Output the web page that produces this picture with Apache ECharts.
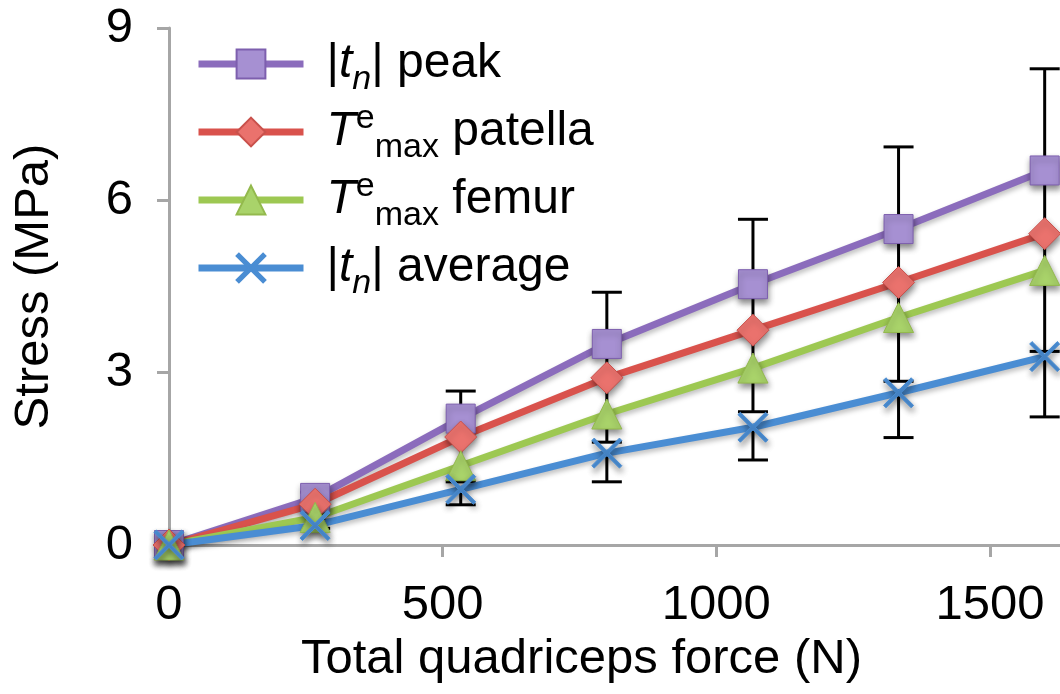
<!DOCTYPE html>
<html>
<head>
<meta charset="utf-8">
<script src="https://cdn.jsdelivr.net/npm/echarts@6/dist/echarts.min.js"></script>
<style>
html,body{margin:0;padding:0;background:#fff;}
#chart{width:1060px;height:694px;}
</style>
</head>
<body>
<div id="chart"></div>
<script>
// ---- data ----
var forceN = [0, 267, 533, 800, 1067, 1333, 1600];
var seriesNames = ['|tn| peak', 'Temax patella', 'Temax femur', '|tn| average'];
var tnPeak = [0, 0.82, 2.2, 3.5, 4.54, 5.5, 6.52];
var teMaxPatella = [0, 0.71, 1.88, 2.91, 3.74, 4.57, 5.42];
var teMaxFemur = [0, 0.48, 1.38, 2.28, 3.08, 3.96, 4.78];
var tnAverage = [0, 0.34, 0.97, 1.6, 2.05, 2.65, 3.28];
var peakErrPlus = [0, 0.1, 0.48, 0.9, 1.13, 1.43, 1.77];
var peakErrMinus = [0, 0.34, 0.82, 1.22, 1.46, 1.54, 1.74];
var femurErrMinus = [0, 0.05, 0.28, 0.49, 0.76, 1.11, 1.41];
var averageErrMinus = [0, 0.05, 0.27, 0.5, 0.57, 0.78, 1.05];
var xTicks = [0, 500, 1000, 1500];
var yTicks = [0, 3, 6, 9];

var FONT = "'Liberation Sans', Arial, Helvetica, sans-serif";

function pairs(vals) {
  return forceN.map(function (x, i) { return [x, vals[i]]; });
}

// [x, y, errUp, errDown, capUp, capDown]
var errData = [];
forceN.forEach(function (x, i) {
  errData.push([x, tnPeak[i], peakErrPlus[i], peakErrMinus[i], 1, 0]);
  errData.push([x, teMaxFemur[i], 0, femurErrMinus[i], 0, 1]);
  errData.push([x, tnAverage[i], 0, averageErrMinus[i], 0, 1]);
});

var shadowItem = { shadowColor: 'rgba(0,0,0,0.45)', shadowBlur: 6, shadowOffsetX: 1, shadowOffsetY: 4 };
var shadowLine = { shadowColor: 'rgba(0,0,0,0.25)', shadowBlur: 5, shadowOffsetX: 1, shadowOffsetY: 3 };

var styles = [
  { line: '#8B6CBC', fill: '#A690D2', border: '#7D5FAE', symbol: 'rect', size: 29 },
  { line: '#D9524C', fill: '#EA726D', border: '#C9514C', symbol: 'diamond', size: 32 },
  { line: '#9DC852', fill: '#A9D36A', border: '#93B94D', symbol: 'triangle', size: 30 },
  { line: '#4A8DD3', fill: '#4A8DD3', border: '#4A8DD3',
    symbol: 'path://M0,0.8 L0.8,0 L5,4.2 L9.2,0 L10,0.8 L5.8,5 L10,9.2 L9.2,10 L5,5.8 L0.8,10 L0,9.2 L4.2,5 Z', size: 30 }
];
var values = [tnPeak, teMaxPatella, teMaxFemur, tnAverage];

var lineSeries = seriesNames.map(function (name, k) {
  var s = styles[k];
  return {
    name: name,
    type: 'line',
    data: pairs(values[k]),
    symbol: s.symbol,
    symbolSize: s.size,
    showAllSymbol: true,
    clip: false,
    z: 3,
    lineStyle: Object.assign({ color: s.line, width: 7 }, shadowLine),
    itemStyle: Object.assign({ color: s.fill, borderColor: s.border, borderWidth: 1, opacity: 1 }, shadowItem),
    emphasis: { disabled: true }
  };
});

var errorSeries = {
  type: 'custom',
  name: 'err',
  z: 2,
  silent: true,
  clip: false,
  data: errData,
  renderItem: function (params, api) {
    var x = api.value(0), y = api.value(1), up = api.value(2), dn = api.value(3);
    var capUp = api.value(4), capDn = api.value(5);
    var top = api.coord([x, y + up]);
    var bot = api.coord([x, y - dn]);
    var hw = 15;
    var st = { stroke: '#000', lineWidth: 3 };
    var children = [{ type: 'line', shape: { x1: top[0], y1: top[1], x2: bot[0], y2: bot[1] }, style: st }];
    if (up > 0 && capUp) children.push({ type: 'line', shape: { x1: top[0] - hw, y1: top[1], x2: top[0] + hw, y2: top[1] }, style: st });
    if (dn > 0 && capDn) children.push({ type: 'line', shape: { x1: bot[0] - hw, y1: bot[1], x2: bot[0] + hw, y2: bot[1] }, style: st });
    return { type: 'group', children: children };
  }
};

var legendLabels = {};
legendLabels[seriesNames[0]] = '{r||}{it|t}{subi|n}{r||} peak';
legendLabels[seriesNames[1]] = '{it|T}{sup|e}{sub|max} patella';
legendLabels[seriesNames[2]] = '{it|T}{sup|e}{sub|max} femur';
legendLabels[seriesNames[3]] = '{r||}{it|t}{subi|n}{r||} average';

var chart = echarts.init(document.getElementById('chart'), null, { renderer: 'canvas' });
chart.setOption({
  animation: false,
  backgroundColor: '#fff',
  textStyle: { fontFamily: FONT },
  grid: { left: 169, right: 0, top: 28, bottom: 149, containLabel: false },
  legend: {
    data: seriesNames,
    orient: 'vertical',
    left: 190,
    top: 26,
    itemWidth: 105,
    itemHeight: 36,
    itemGap: 2,
    selectedMode: false,
    lineStyle: { width: 7 },
    formatter: function (name) { return legendLabels[name]; },
    textStyle: {
      fontFamily: FONT,
      fontSize: 48,
      color: '#000',
      lineHeight: 66,
      padding: [0, 0, 0, 18],
      rich: {
        r: { fontFamily: FONT, fontSize: 48, color: '#000', lineHeight: 66 },
        it: { fontFamily: FONT, fontSize: 48, fontStyle: 'italic', color: '#000', lineHeight: 66 },
        sub: { fontFamily: FONT, fontSize: 34, color: '#000', lineHeight: 34, verticalAlign: 'bottom' },
        subi: { fontFamily: FONT, fontSize: 34, fontStyle: 'italic', color: '#000', lineHeight: 34, verticalAlign: 'bottom' },
        sup: { fontFamily: FONT, fontSize: 34, color: '#000', lineHeight: 34, verticalAlign: 'top', padding: [3, 0, 0, 0] }
      }
    }
  },
  xAxis: {
    type: 'value',
    min: 0,
    max: 1628,
    interval: 500,
    name: 'Total quadriceps force (N)',
    nameLocation: 'middle',
    nameGap: 89,
    nameTextStyle: { fontFamily: FONT, fontSize: 49, color: '#000', padding: [0, 66, 0, 0] },
    axisLine: { lineStyle: { color: '#A6A6A6', width: 3 } },
    axisTick: { length: 12, customValues: xTicks, lineStyle: { color: '#A6A6A6', width: 3 } },
    splitLine: { show: false },
    axisLabel: {
      fontFamily: FONT, fontSize: 49, color: '#000', margin: 36,
      customValues: xTicks,
      formatter: function (v) { return xTicks.indexOf(v) >= 0 ? String(v) : ''; }
    }
  },
  yAxis: {
    type: 'value',
    min: 0,
    max: 9,
    interval: 3,
    name: 'Stress (MPa)',
    nameLocation: 'middle',
    nameGap: 110,
    nameTextStyle: { fontFamily: FONT, fontSize: 49, color: '#000' },
    axisLine: { show: true, lineStyle: { color: '#A6A6A6', width: 3 } },
    axisTick: { show: true, length: 12, lineStyle: { color: '#A6A6A6', width: 3 } },
    splitLine: { show: false },
    axisLabel: {
      fontFamily: FONT, fontSize: 49, color: '#000', margin: 36,
      formatter: function (v) { return yTicks.indexOf(v) >= 0 ? String(v) : ''; }
    }
  },
  series: [errorSeries].concat(lineSeries)
});
</script>
</body>
</html>
